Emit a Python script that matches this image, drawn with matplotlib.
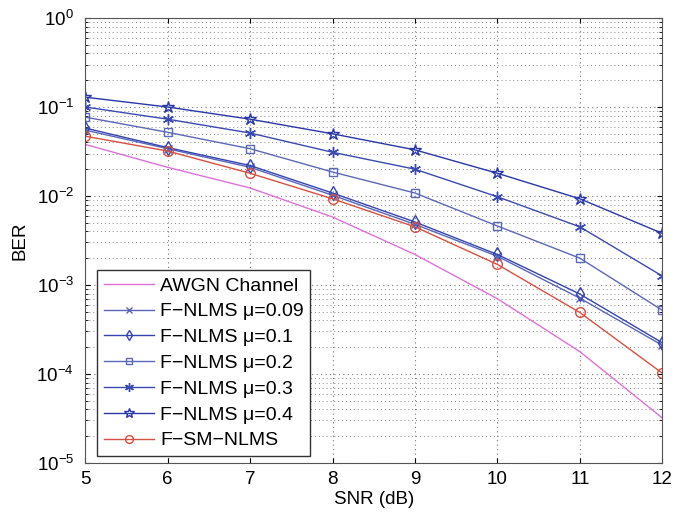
import matplotlib
matplotlib.use("Agg")
import matplotlib.pyplot as plt
from matplotlib.ticker import LogLocator, NullFormatter

plt.rcParams['font.family'] = ['Liberation Sans', 'DejaVu Sans']
plt.rcParams['mathtext.fontset'] = 'custom'
plt.rcParams['mathtext.rm'] = 'Liberation Sans'

snr = [5, 6, 7, 8, 9, 10, 11, 12]
awgn = [0.038, 0.021, 0.0123, 0.0058, 0.0022, 0.0007, 0.000178, 3.2e-5]
nlms_009 = [0.055, 0.034, 0.021, 0.0102, 0.0048, 0.0021, 0.00071, 0.00021]
nlms_01 = [0.058, 0.035, 0.022, 0.0108, 0.0051, 0.0022, 0.00079, 0.000224]
nlms_02 = [0.077, 0.052, 0.034, 0.0186, 0.0108, 0.0046, 0.0020, 0.00052]
nlms_03 = [0.100, 0.073, 0.051, 0.031, 0.020, 0.0098, 0.0045, 0.00126]
nlms_04 = [0.129, 0.100, 0.073, 0.050, 0.033, 0.018, 0.0093, 0.0038]
sm_nlms = [0.047, 0.032, 0.018, 0.0093, 0.0045, 0.0017, 0.00049, 0.000102]


def main():
    fig = plt.figure(figsize=(6.87, 5.16), dpi=100)
    ax = fig.add_axes([0.124, 0.103, 0.840, 0.862])

    lw = 1.0
    ax.semilogy(snr, awgn, color='#e070d8', lw=lw, label='AWGN Channel')
    ax.semilogy(snr, nlms_009, color='#5a66b8', lw=lw, marker='x', ms=6,
                mfc='none', label='F\u2212NLMS \u03bc=0.09')
    ax.semilogy(snr, nlms_01, color='#3445b0', lw=lw, marker='d', ms=7,
                mfc='none', label='F\u2212NLMS \u03bc=0.1')
    ax.semilogy(snr, nlms_02, color='#5a68b8', lw=lw, marker='s', ms=6,
                mfc='none', label='F\u2212NLMS \u03bc=0.2')
    ax.semilogy(snr, nlms_03, color='#3a4ab0', lw=lw, marker=(6, 2, 0), ms=8,
                mfc='none', label='F\u2212NLMS \u03bc=0.3')
    ax.semilogy(snr, nlms_04, color='#2838a8', lw=lw, marker='*', ms=9,
                mfc='none', label='F\u2212NLMS \u03bc=0.4')
    ax.semilogy(snr, sm_nlms, color='#d85040', lw=lw, marker='o', ms=7,
                mfc='none', label='F\u2212SM\u2212NLMS')

    ax.set_xlim(5, 12)
    ax.set_ylim(1e-5, 1e0)
    ax.set_xticks(snr)
    ax.yaxis.set_major_locator(LogLocator(base=10, numticks=10))
    ax.yaxis.set_minor_locator(LogLocator(base=10, subs=range(2, 10), numticks=20))
    ax.yaxis.set_minor_formatter(NullFormatter())

    ax.grid(True, which='major', linestyle=(0, (1, 3)), color='#777777', lw=0.8)
    ax.grid(True, which='minor', axis='y', linestyle=(0, (1, 3)),
            color='#888888', lw=0.7)

    ax.tick_params(labelsize=13.5, direction='in', which='both',
                   top=True, right=True)
    ax.tick_params(axis='y', pad=8)
    ax.tick_params(axis='x', pad=6)
    for s in ax.spines.values():
        s.set_color('#555555')

    ax.set_xlabel('SNR (dB)', fontsize=13.5, labelpad=2)
    ax.set_ylabel('BER', fontsize=13.5, labelpad=6)

    leg = ax.legend(loc='lower left', bbox_to_anchor=(0.02, 0.015),
                    borderaxespad=0, fontsize=14, fancybox=False,
                    framealpha=1, edgecolor='#333333', handlelength=2.6,
                    handletextpad=0.3, labelspacing=0.42, borderpad=0.35,
                    markerscale=0.8)
    leg.get_frame().set_linewidth(1.0)

    fig.savefig('out.png', dpi=100)


if __name__ == "__main__":
    main()
